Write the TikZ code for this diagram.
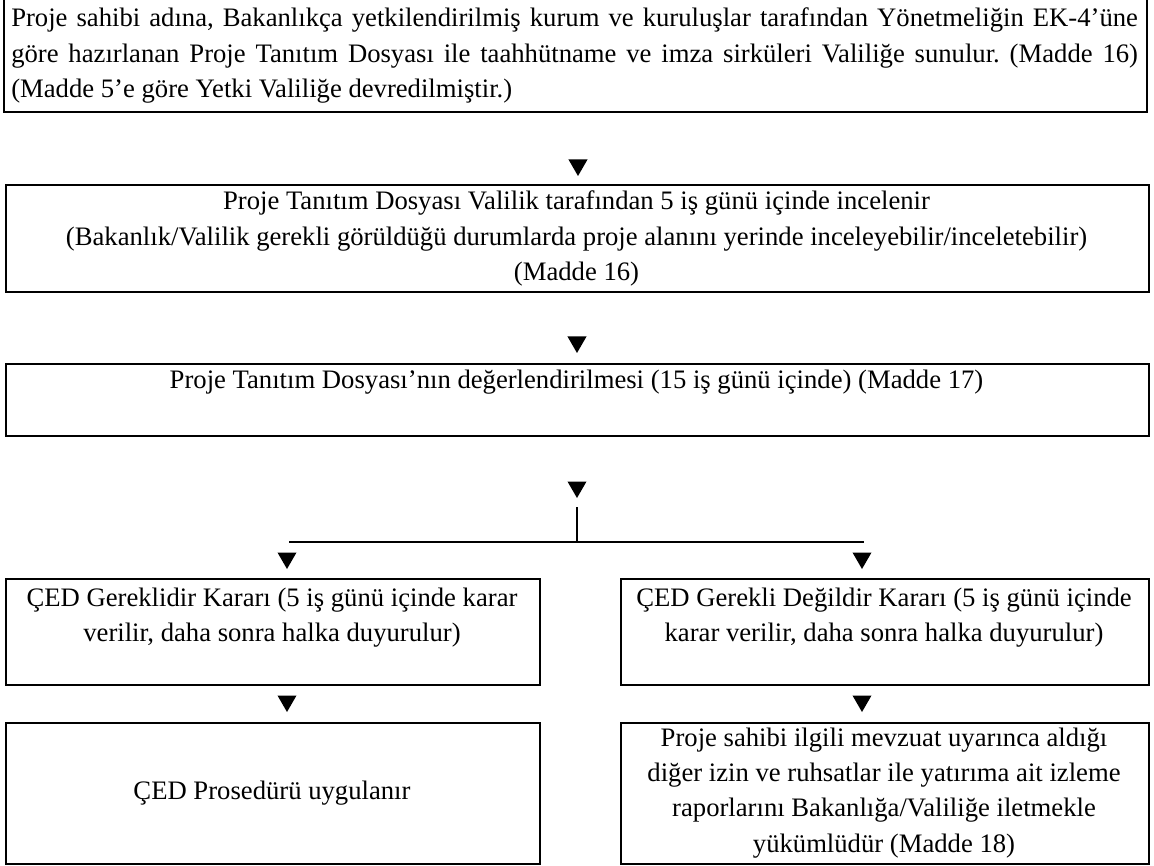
\documentclass[tikz,border=0pt]{standalone}
\usepackage{fontspec}
\setmainfont{Liberation Serif}
\usetikzlibrary{shapes.geometric}
\newcommand\fsz{\fontsize{20}{26.5}\selectfont\frenchspacing}
\newcommand\ctxt[2]{\parbox[t]{#1}{\centering #2}}
\tikzset{
  box/.style={draw, line width=1.4pt, anchor=north west, inner sep=0pt},
  txt/.style={inner sep=0pt, font=\fsz, anchor=base},
  tri/.style={regular polygon, regular polygon sides=3, shape border rotate=180,
              fill=black, draw=none, minimum size=16.5pt, inner sep=0pt},
  link/.style={line width=1.4pt},
}
\begin{document}
\begin{tikzpicture}[x=0.75pt, y=-0.75pt]
\useasboundingbox (0,0) rectangle (1154,866);
% boxes
\node[box, minimum width=857.25pt, minimum height=85.5pt] (b1) at (3,-3) {};
\node[box, minimum width=857.25pt, minimum height=80.25pt] (b2) at (5,184) {};
\node[box, minimum width=857.25pt, minimum height=54pt] (b3) at (5,363) {};
\node[box, minimum width=400.5pt, minimum height=79.5pt] (b4l) at (5,578) {};
\node[box, minimum width=396pt, minimum height=79.5pt] (b4r) at (620,578) {};
\node[box, minimum width=400.5pt, minimum height=105.75pt] (b5l) at (5,722) {};
\node[box, minimum width=396pt, minimum height=105.75pt] (b5r) at (620,722) {};
% texts
\node[txt, anchor=base west] (x1) at (11,27)
  {\parbox[t]{845pt}{Proje sahibi adına, Bakanlıkça yetkilendirilmiş kurum ve kuruluşlar tarafından Yönetmeliğin EK-4’üne\linebreak
   göre hazırlanan Proje Tanıtım Dosyası ile taahhütname ve imza sirküleri Valiliğe sunulur. (Madde 16)\linebreak
   (Madde 5’e göre Yetki Valiliğe devredilmiştir.)}};
\node[txt] (x2) at (576.5,210)
  {\ctxt{845pt}{Proje Tanıtım Dosyası Valilik tarafından 5 iş günü içinde incelenir\\
   (Bakanlık/Valilik gerekli görüldüğü durumlarda proje alanını yerinde inceleyebilir/inceletebilir)\\
   (Madde 16)}};
\node[txt] (x3) at (576.5,389)
  {Proje Tanıtım Dosyası’nın değerlendirilmesi (15 iş günü içinde) (Madde 17)};
\node[txt] (x4l) at (272,606)
  {\ctxt{395pt}{ÇED Gereklidir Kararı (5 iş günü içinde karar\\ verilir, daha sonra halka duyurulur)}};
\node[txt] (x4r) at (884,606)
  {\ctxt{390pt}{ÇED Gerekli Değildir Kararı (5 iş günü içinde\\ karar verilir, daha sonra halka duyurulur)}};
\node[txt] (x5l) at (272,799) {ÇED Prosedürü uygulanır};
\node[txt] (x5r) at (884,746)
  {\ctxt{390pt}{Proje sahibi ilgili mevzuat uyarınca aldığı\\
   diğer izin ve ruhsatlar ile yatırıma ait izleme\\
   raporlarını Bakanlığa/Valiliğe iletmekle\\
   yükümlüdür (Madde 18)}};
% arrow heads
\node[tri] (t1) at (578,165) {};
\node[tri] (t2) at (577,342) {};
\node[tri] (t3) at (577,487) {};
\node[tri] (t4l) at (287,558) {};
\node[tri] (t4r) at (862,558) {};
\node[tri] (t5l) at (287,701) {};
\node[tri] (t5r) at (862,701) {};
% branch
\coordinate (jtop) at (577,507);
\coordinate (j) at (577,542);
\coordinate (jl) at (289,542);
\coordinate (jr) at (864,542);
\draw[link] (jtop) -- (j);
\draw[link] (jl) -- (jr);
\end{tikzpicture}
\end{document}
